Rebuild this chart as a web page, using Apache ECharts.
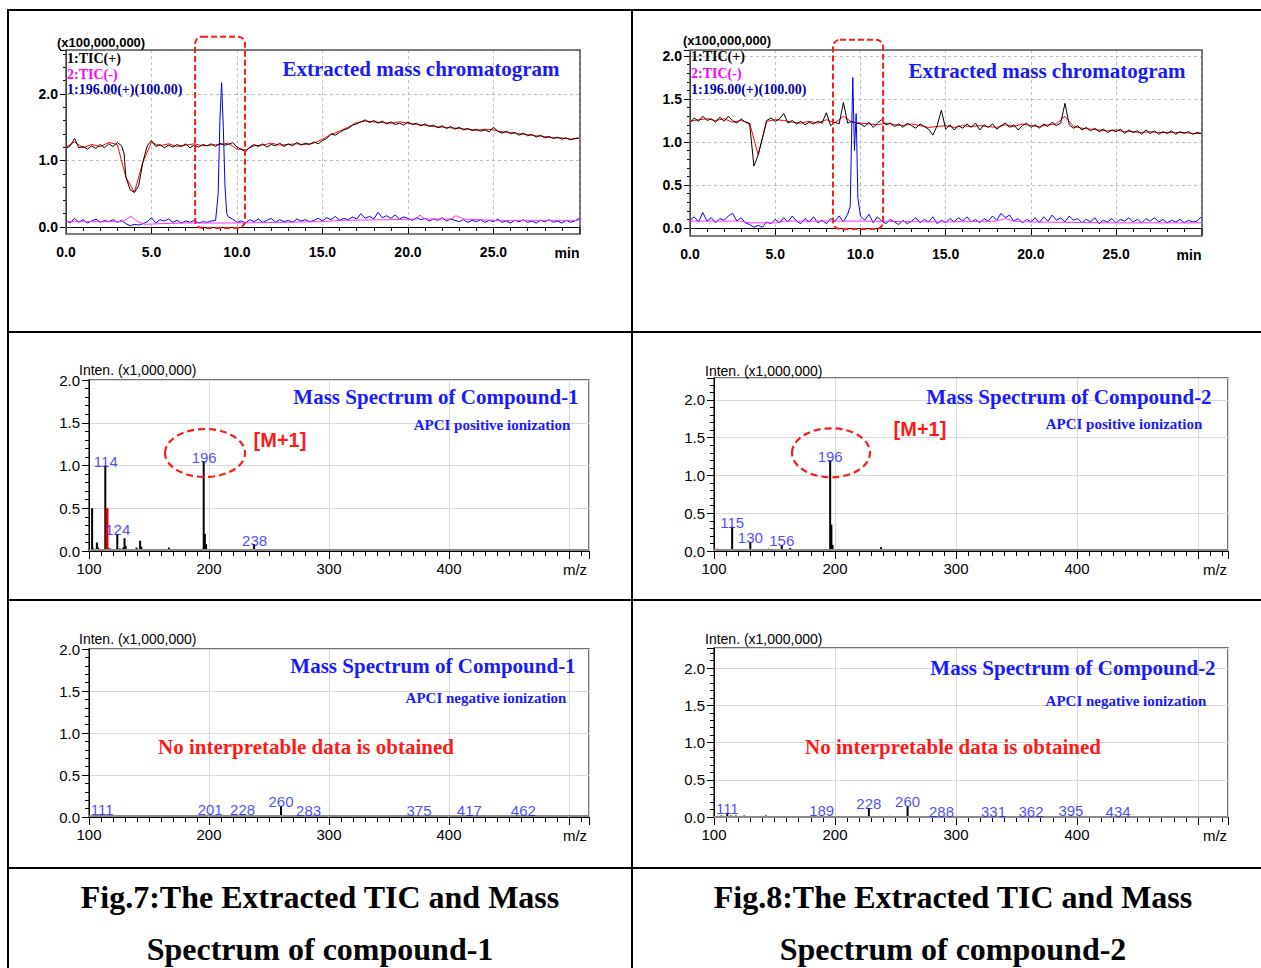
<!DOCTYPE html>
<html><head><meta charset="utf-8">
<script src="https://cdn.jsdelivr.net/npm/echarts@6/dist/echarts.min.js"></script>
<style>html,body{margin:0;padding:0;background:#fff;}#c{width:1261px;height:968px;}</style>
</head><body><div id="c"></div>
<script>
// ---------- DATA ----------
// Fig.7 chromatogram, compound-1 (x: min, y: x100,000,000)
const tic1Black = [[0,1.18],[0.25,1.22],[0.5,1.33],[0.75,1.19],[1,1.21],[1.25,1.17],[1.5,1.22],[1.75,1.18],[2,1.24],[2.25,1.19],[2.5,1.25],[2.75,1.21],[3,1.27],[3.25,1.22],[3.4,1.1],[3.5,0.75],[3.75,0.56],[4,0.52],[4.25,0.62],[4.5,0.98],[4.75,1.22],[5,1.30],[5.25,1.21],[5.5,1.24],[5.75,1.19],[6,1.23],[6.25,1.20],[6.5,1.24],[6.75,1.21],[7,1.25],[7.25,1.19],[7.5,1.23],[7.75,1.20],[8,1.24],[8.25,1.22],[8.5,1.25],[8.75,1.21],[9,1.26],[9.25,1.23],[9.5,1.24],[9.75,1.27],[10,1.20],[10.25,1.17],[10.5,1.13],[10.75,1.20],[11,1.24],[11.25,1.21],[11.5,1.25],[11.75,1.20],[12,1.24],[12.25,1.22],[12.5,1.26],[12.75,1.21],[13,1.25],[13.25,1.22],[13.5,1.27],[13.75,1.23],[14,1.26],[14.25,1.24],[14.5,1.28],[14.75,1.25],[15,1.30],[15.25,1.33],[15.5,1.40],[15.75,1.38],[16,1.42],[16.25,1.46],[16.5,1.48],[16.75,1.53],[17,1.55],[17.25,1.58],[17.5,1.61],[17.75,1.57],[18,1.60],[18.25,1.56],[18.5,1.59],[18.75,1.55],[19,1.58],[19.25,1.54],[19.5,1.56],[19.75,1.53],[20,1.58],[20.25,1.54],[20.5,1.56],[20.75,1.52],[21,1.55],[21.25,1.51],[21.5,1.53],[21.75,1.49],[22,1.52],[22.25,1.48],[22.5,1.51],[22.75,1.47],[23,1.50],[23.25,1.46],[23.5,1.48],[23.75,1.45],[24,1.47],[24.25,1.44],[24.5,1.46],[24.75,1.43],[25,1.50],[25.25,1.44],[25.5,1.41],[25.75,1.44],[26,1.40],[26.25,1.42],[26.5,1.38],[26.75,1.41],[27,1.37],[27.25,1.39],[27.5,1.35],[27.75,1.38],[28,1.34],[28.25,1.36],[28.5,1.33],[28.75,1.35],[29,1.32],[29.25,1.34],[29.5,1.31],[29.75,1.33],[30,1.34]];
const tic1Red = [[0,1.20],[0.5,1.28],[1,1.19],[1.5,1.24],[2,1.21],[2.5,1.27],[3,1.24],[3.5,0.75],[4,0.52],[4.5,0.98],[5,1.27],[5.5,1.22],[6,1.25],[6.5,1.21],[7,1.23],[7.5,1.25],[8,1.22],[8.5,1.23],[9,1.24],[9.5,1.26],[10,1.17],[10.5,1.16],[11,1.22],[11.5,1.23],[12,1.26],[12.5,1.23],[13,1.24],[13.5,1.25],[14,1.24],[14.5,1.26],[15,1.32],[15.5,1.39],[16,1.44],[16.5,1.50],[17,1.57],[17.5,1.59],[18,1.58],[18.5,1.57],[19,1.56],[19.5,1.58],[20,1.56],[20.5,1.54],[21,1.53],[21.5,1.51],[22,1.50],[22.5,1.49],[23,1.48],[23.5,1.47],[24,1.45],[24.5,1.47],[25,1.46],[25.5,1.43],[26,1.42],[26.5,1.40],[27,1.39],[27.5,1.37],[28,1.36],[28.5,1.34],[29,1.34],[29.5,1.32],[30,1.33]];
const xic1Blue = [[0,0.10],[0.25,0.06],[0.5,0.13],[0.75,0.07],[1,0.11],[1.25,0.06],[1.5,0.09],[1.75,0.12],[2,0.07],[2.25,0.10],[2.5,0.08],[2.75,0.11],[3,0.07],[3.25,0.10],[3.5,0.05],[3.75,0.02],[4,0.04],[4.25,0.03],[4.5,0.05],[4.75,0.08],[5,0.14],[5.25,0.06],[5.5,0.11],[5.75,0.09],[6,0.12],[6.25,0.07],[6.5,0.10],[6.75,0.06],[7,0.09],[7.25,0.07],[7.5,0.10],[7.75,0.06],[8,0.08],[8.25,0.07],[8.5,0.09],[8.75,0.10],[8.9,0.5],[9.0,1.6],[9.1,2.17],[9.2,1.5],[9.3,0.6],[9.4,0.2],[9.5,0.15],[9.75,0.12],[10,0.07],[10.25,0.09],[10.5,0.06],[10.75,0.11],[11,0.08],[11.25,0.12],[11.5,0.07],[11.75,0.10],[12,0.13],[12.25,0.07],[12.5,0.11],[12.75,0.08],[13,0.10],[13.25,0.07],[13.5,0.12],[13.75,0.09],[14,0.11],[14.25,0.08],[14.5,0.10],[14.75,0.13],[15,0.09],[15.25,0.14],[15.5,0.11],[15.75,0.16],[16,0.10],[16.25,0.13],[16.5,0.11],[16.75,0.15],[17,0.12],[17.25,0.20],[17.5,0.13],[17.75,0.16],[18,0.12],[18.25,0.22],[18.5,0.14],[18.75,0.17],[19,0.13],[19.25,0.18],[19.5,0.12],[19.75,0.15],[20,0.13],[20.25,0.10],[20.5,0.14],[20.75,0.11],[21,0.13],[21.25,0.09],[21.5,0.12],[21.75,0.10],[22,0.14],[22.25,0.09],[22.5,0.12],[22.75,0.10],[23,0.08],[23.25,0.11],[23.5,0.07],[23.75,0.10],[24,0.08],[24.25,0.11],[24.5,0.07],[24.75,0.10],[25,0.08],[25.25,0.12],[25.5,0.07],[25.75,0.09],[26,0.06],[26.25,0.10],[26.5,0.08],[26.75,0.11],[27,0.07],[27.25,0.09],[27.5,0.06],[27.75,0.10],[28,0.08],[28.25,0.11],[28.5,0.07],[28.75,0.09],[29,0.06],[29.25,0.10],[29.5,0.07],[29.75,0.09],[30,0.13]];
const tic1Neg = [[0,0.08],[3.3,0.08],[3.8,0.16],[4.2,0.08],[4.6,0.04],[5.5,0.05],[7,0.06],[10,0.06],[15,0.08],[16,0.10],[19,0.11],[20.5,0.12],[20.7,0.18],[21,0.12],[22.5,0.12],[22.8,0.17],[23.3,0.12],[25,0.10],[30,0.10]];

// Fig.8 chromatogram, compound-2
const tic2Black = [[0,1.22],[0.25,1.28],[0.5,1.24],[0.75,1.30],[1,1.25],[1.25,1.27],[1.5,1.23],[1.75,1.29],[2,1.24],[2.25,1.30],[2.5,1.25],[2.75,1.22],[3,1.27],[3.25,1.23],[3.5,1.21],[3.75,0.72],[4,0.85],[4.25,1.05],[4.5,1.25],[4.75,1.28],[5,1.24],[5.25,1.27],[5.5,1.33],[5.75,1.22],[6,1.25],[6.25,1.21],[6.5,1.24],[6.75,1.20],[7,1.23],[7.25,1.21],[7.5,1.24],[7.75,1.22],[8,1.34],[8.25,1.19],[8.5,1.23],[8.75,1.21],[9,1.46],[9.25,1.22],[9.5,1.24],[9.75,1.22],[10,1.21],[10.25,1.18],[10.5,1.23],[10.75,1.17],[11,1.22],[11.25,1.26],[11.5,1.20],[11.75,1.22],[12,1.18],[12.25,1.21],[12.5,1.17],[12.75,1.22],[13,1.19],[13.25,1.16],[13.5,1.21],[13.75,1.18],[14,1.15],[14.25,1.08],[14.5,1.19],[14.75,1.37],[15,1.15],[15.25,1.20],[15.5,1.14],[15.75,1.19],[16,1.16],[16.25,1.21],[16.5,1.17],[16.75,1.22],[17,1.14],[17.25,1.20],[17.5,1.17],[17.75,1.21],[18,1.15],[18.25,1.19],[18.5,1.22],[18.75,1.17],[19,1.20],[19.25,1.14],[19.5,1.19],[19.75,1.22],[20,1.17],[20.25,1.20],[20.5,1.16],[20.75,1.21],[21,1.18],[21.25,1.23],[21.5,1.19],[21.75,1.22],[22,1.45],[22.25,1.20],[22.5,1.16],[22.75,1.19],[23,1.14],[23.25,1.17],[23.5,1.13],[23.75,1.16],[24,1.12],[24.25,1.15],[24.5,1.11],[24.75,1.14],[25,1.12],[25.25,1.15],[25.5,1.10],[25.75,1.14],[26,1.11],[26.25,1.13],[26.5,1.09],[26.75,1.14],[27,1.10],[27.25,1.13],[27.5,1.09],[27.75,1.12],[28,1.10],[28.25,1.13],[28.5,1.09],[28.75,1.12],[29,1.10],[29.25,1.12],[29.5,1.09],[29.75,1.11],[30,1.10]];
const tic2Red = [[0,1.24],[0.5,1.26],[1,1.27],[1.5,1.25],[2,1.27],[2.5,1.23],[3,1.25],[3.5,1.22],[4,0.85],[4.5,1.24],[5,1.26],[5.5,1.25],[6,1.23],[6.5,1.22],[7,1.24],[7.5,1.22],[8,1.26],[8.5,1.22],[9,1.30],[9.5,1.23],[10,1.22],[10.5,1.21],[11,1.20],[11.5,1.22],[12,1.20],[12.5,1.19],[13,1.21],[13.5,1.19],[14,1.17],[14.5,1.18],[15,1.19],[15.5,1.17],[16,1.19],[16.5,1.18],[17,1.19],[17.5,1.18],[18,1.17],[18.5,1.20],[19,1.18],[19.5,1.21],[20,1.19],[20.5,1.18],[21,1.20],[21.5,1.21],[22,1.30],[22.5,1.18],[23,1.16],[23.5,1.15],[24,1.14],[24.5,1.13],[25,1.14],[25.5,1.12],[26,1.12],[26.5,1.11],[27,1.12],[27.5,1.11],[28,1.11],[28.5,1.11],[29,1.11],[29.5,1.10],[30,1.10]];
const xic2Blue = [[0,0.09],[0.25,0.13],[0.5,0.07],[0.75,0.18],[1,0.08],[1.25,0.12],[1.5,0.06],[1.75,0.11],[2,0.09],[2.25,0.14],[2.5,0.17],[2.75,0.08],[3,0.12],[3.25,0.06],[3.5,0.04],[3.75,0.01],[4,0.03],[4.25,0.01],[4.5,0.07],[4.75,0.05],[5,0.10],[5.25,0.06],[5.5,0.12],[5.75,0.07],[6,0.14],[6.25,0.08],[6.5,0.05],[6.75,0.11],[7,0.07],[7.25,0.13],[7.5,0.06],[7.75,0.09],[8,0.05],[8.25,0.11],[8.5,0.08],[8.75,0.14],[9,0.07],[9.25,0.16],[9.4,0.25],[9.55,1.75],[9.65,0.9],[9.75,1.33],[9.85,0.35],[10,0.14],[10.25,0.09],[10.5,0.16],[10.75,0.06],[11,0.13],[11.25,0.08],[11.5,0.05],[11.75,0.10],[12,0.07],[12.25,0.04],[12.5,0.09],[12.75,0.05],[13,0.08],[13.25,0.12],[13.5,0.06],[13.75,0.10],[14,0.07],[14.25,0.13],[14.5,0.05],[14.75,0.09],[15,0.06],[15.25,0.11],[15.5,0.07],[15.75,0.12],[16,0.08],[16.25,0.13],[16.5,0.07],[16.75,0.10],[17,0.06],[17.25,0.11],[17.5,0.08],[17.75,0.14],[18,0.09],[18.25,0.17],[18.5,0.12],[18.75,0.15],[19,0.08],[19.25,0.11],[19.5,0.06],[19.75,0.10],[20,0.07],[20.25,0.12],[20.5,0.06],[20.75,0.13],[21,0.08],[21.25,0.15],[21.5,0.09],[21.75,0.12],[22,0.07],[22.25,0.14],[22.5,0.09],[22.75,0.11],[23,0.06],[23.25,0.10],[23.5,0.07],[23.75,0.12],[24,0.05],[24.25,0.09],[24.5,0.07],[24.75,0.11],[25,0.06],[25.25,0.10],[25.5,0.08],[25.75,0.12],[26,0.07],[26.25,0.10],[26.5,0.06],[26.75,0.11],[27,0.08],[27.25,0.12],[27.5,0.07],[27.75,0.10],[28,0.06],[28.25,0.09],[28.5,0.07],[28.75,0.10],[29,0.06],[29.25,0.09],[29.5,0.07],[29.75,0.08],[30,0.13]];
const tic2Neg = [[0,0.08],[3.0,0.08],[3.5,0.06],[5,0.06],[5.5,0.08],[10,0.08],[15,0.07],[18,0.08],[18.5,0.11],[19,0.08],[20,0.07],[25,0.06],[30,0.06]];

// Mass spectra (x: m/z, y: x1,000,000)
const spec1Pos = [[101,0.02],[103,0.5],[104,0.03],[107,0.1],[108,0.04],[110,0.02],[112,0.02],[114,1.0],[116,0.04],[118,0.03],[121,0.02],[124,0.2],[126,0.03],[129,0.04],[130,0.15],[131,0.06],[133,0.02],[137,0.02],[140,0.04],[143,0.12],[144,0.05],[147,0.02],[150,0.02],[153,0.015],[157,0.015],[160,0.01],[167,0.04],[172,0.01],[180,0.01],[185,0.01],[196,1.05],[197,0.2],[198,0.08],[205,0.01],[212,0.01],[220,0.01],[226,0.01],[230,0.015],[238,0.08],[239,0.02],[252,0.01],[268,0.02],[280,0.02],[293,0.015],[310,0.01],[325,0.01],[356,0.01],[392,0.02],[430,0.01],[475,0.01],[505,0.01]];
const spec1PosRed = [[115,0.5]];
const spec1PosLabels = [[114,1.0],[124,0.2],[196,1.05],[238,0.08]];
const spec2Pos = [[101,0.02],[103,0.03],[105,0.02],[108,0.01],[111,0.015],[115,0.32],[117,0.02],[120,0.01],[124,0.015],[127,0.01],[130,0.12],[132,0.02],[138,0.01],[142,0.025],[145,0.03],[148,0.02],[152,0.015],[156,0.08],[158,0.02],[163,0.04],[170,0.01],[178,0.01],[185,0.01],[196,1.2],[197,0.35],[198,0.08],[203,0.01],[210,0.01],[224,0.02],[238,0.05],[245,0.01],[262,0.01],[275,0.01],[290,0.015],[313,0.015],[340,0.01],[380,0.01],[420,0.01],[460,0.01],[500,0.01]];
const spec2PosLabels = [[115,0.32],[130,0.12],[156,0.08],[196,1.2]];
const spec1Neg = [[104,0.015],[107,0.02],[111,0.03],[113,0.015],[116,0.02],[120,0.01],[124,0.015],[128,0.01],[135,0.01],[142,0.01],[150,0.01],[160,0.01],[170,0.01],[185,0.01],[195,0.01],[201,0.03],[210,0.01],[220,0.015],[228,0.03],[235,0.01],[245,0.015],[252,0.02],[260,0.13],[266,0.01],[275,0.01],[283,0.02],[295,0.01],[320,0.01],[350,0.01],[375,0.012],[400,0.01],[417,0.012],[440,0.01],[462,0.012],[490,0.01]];
const spec1NegLabels = [[111,0.03],[201,0.03],[228,0.03],[260,0.13],[283,0.02],[375,0.012],[417,0.012],[462,0.012]];
const spec2Neg = [[103,0.015],[106,0.02],[108,0.015],[111,0.05],[114,0.02],[118,0.02],[121,0.015],[125,0.02],[131,0.01],[143,0.02],[150,0.01],[160,0.01],[175,0.01],[189,0.02],[200,0.01],[210,0.01],[218,0.01],[228,0.12],[236,0.01],[245,0.015],[252,0.01],[260,0.14],[270,0.01],[288,0.01],[300,0.01],[315,0.01],[331,0.01],[345,0.01],[362,0.01],[380,0.01],[395,0.02],[410,0.01],[434,0.01],[460,0.01],[490,0.01]];
const spec2NegLabels = [[111,0.05],[189,0.02],[228,0.12],[260,0.14],[288,0.01],[331,0.01],[362,0.01],[395,0.02],[434,0.01]];

// annotation regions (data units)
const box1 = {x: [7.55, 10.47], y: [-0.015, 2.86]};
const box2 = {x: [8.39, 11.33], y: [-0.012, 2.19]};
const ring3 = [196.7, 1.146];
const ring4 = [196.7, 1.30];

// ---------- CHART ----------
const SANS = '"Liberation Sans", Arial, sans-serif';
const SERIF = '"Liberation Serif", "Times New Roman", serif';
const chart = echarts.init(document.getElementById('c'), null, {renderer: 'svg', width: 1261, height: 968});

const grids = [
  {left: 66, top: 50, width: 514, height: 177},
  {left: 690, top: 50, width: 512, height: 178},
  {left: 89, top: 380, width: 500, height: 171},
  {left: 714, top: 378, width: 514, height: 173},
  {left: 89, top: 649, width: 500, height: 168},
  {left: 714, top: 648, width: 514, height: 169}
].map((g, i) => Object.assign({containLabel: false, outerBoundsMode: 'none', show: i >= 2, borderColor: '#444', borderWidth: 1.5}, g));

function isMult(v, step) { return Math.abs(v / step - Math.round(v / step)) < 1e-6; }

function chromX(gi, max, offset) {
  return {gridIndex: gi, type: 'value', min: 0, max: max, interval: 5, offset: offset,
    axisLine: {show: true, lineStyle: {color: '#000', width: 1}},
    axisTick: {show: true, length: 7, lineStyle: {color: '#000'}},
    minorTick: {show: true, splitNumber: 5, length: 4, lineStyle: {color: '#000'}},
    axisLabel: {margin: 11, color: '#000', fontFamily: SANS, fontWeight: 'bold', fontSize: 14,
      formatter: v => (isMult(v, 5) && v < 29) ? v.toFixed(1) : ''},
    splitLine: {show: true, lineStyle: {color: '#bdbdbd', type: [3, 3], width: 1}}};
}
function chromY(gi, max, interval) {
  return {gridIndex: gi, type: 'value', min: 0, max: max, interval: interval,
    axisLine: {show: true, lineStyle: {color: '#000', width: 1}},
    axisTick: {show: true, length: 6, lineStyle: {color: '#000'}},
    minorTick: {show: true, splitNumber: 5, length: 3, lineStyle: {color: '#000'}},
    axisLabel: {margin: 8, color: '#000', fontFamily: SANS, fontWeight: 'bold', fontSize: 14,
      formatter: v => (isMult(v, interval) && v <= max - 0.04) ? v.toFixed(1) : ''},
    splitLine: {show: true, lineStyle: {color: '#bdbdbd', type: [3, 3], width: 1}}};
}
function specX(gi, max) {
  return {gridIndex: gi, type: 'value', min: 100, max: max, interval: 100,
    axisLine: {show: true, lineStyle: {color: '#000', width: 1}},
    axisTick: {show: true, length: 8, lineStyle: {color: '#000'}},
    minorTick: {show: true, splitNumber: 10, length: 5, lineStyle: {color: '#000'}},
    axisLabel: {margin: 10, color: '#000', fontFamily: SANS, fontSize: 15,
      formatter: v => (isMult(v, 100) && v < 500) ? String(v) : ''},
    splitLine: {show: true, lineStyle: {color: '#d9d9d9', width: 1}}};
}
function specY(gi, max) {
  return {gridIndex: gi, type: 'value', min: 0, max: max, interval: 0.5,
    axisLine: {show: true, lineStyle: {color: '#000', width: 1}},
    axisTick: {show: true, length: 7, lineStyle: {color: '#000'}},
    minorTick: {show: true, splitNumber: 5, length: 4, lineStyle: {color: '#000'}},
    axisLabel: {margin: 9, color: '#000', fontFamily: SANS, fontSize: 15,
      formatter: v => (isMult(v, 0.5) && v <= max + 1e-6 && v <= 2.0 + 1e-6) ? v.toFixed(1) : ''},
    splitLine: {show: true, lineStyle: {color: '#d9d9d9', width: 1}}};
}

function lineS(gi, data, color, z) {
  return {type: 'line', xAxisIndex: gi, yAxisIndex: gi, data: data, showSymbol: false, symbol: 'none',
    lineStyle: {color: color, width: 1}, silent: true, animation: false, z: z, clip: false};
}
function barS(gi, data, color, w) {
  return {type: 'bar', xAxisIndex: gi, yAxisIndex: gi, data: data, barWidth: w, barGap: '-100%', itemStyle: {color: color},
    silent: true, animation: false, z: 3};
}
function labelS(gi, data, dist) {
  return {type: 'scatter', xAxisIndex: gi, yAxisIndex: gi, data: data, symbolSize: 1,
    itemStyle: {color: 'rgba(0,0,0,0)'}, silent: true, animation: false, z: 5,
    label: {show: true, position: 'top', distance: dist, color: '#1a1aff', fontFamily: SANS, fontSize: 15,
      formatter: p => String(p.value[0])}};
}
function floorS(gi) {
  return {type: 'line', xAxisIndex: gi, yAxisIndex: gi, data: [], silent: true, animation: false,
    markLine: {silent: true, symbol: 'none', label: {show: false}, animation: false,
      lineStyle: {color: '#8a8a8a', width: 2, type: 'solid'}, data: [{yAxis: 0.012}]}};
}

const option = {
  backgroundColor: '#fff',
  animation: false,
  grid: grids,
  xAxis: [chromX(0, 30.06, 7), chromX(1, 30.04, 8), specX(2, 516.7), specX(3, 524.8), specX(4, 516.7), specX(5, 524.8)],
  yAxis: [chromY(0, 2.66, 1), chromY(1, 2.07, 0.5), specY(2, 2.0), specY(3, 2.29), specY(4, 2.0), specY(5, 2.27)],
  series: [
    lineS(0, tic1Red, '#ff0000', 2), lineS(0, tic1Black, '#000000', 3), lineS(0, xic1Blue, '#0000ff', 4), lineS(0, tic1Neg, '#ff33ff', 5),
    lineS(1, tic2Red, '#ff0000', 2), lineS(1, tic2Black, '#000000', 3), lineS(1, xic2Blue, '#0000ff', 4), lineS(1, tic2Neg, '#ff33ff', 5),
    floorS(2), barS(2, spec1Pos, '#000', 2), barS(2, spec1PosRed, '#e00000', 3), labelS(2, spec1PosLabels, -4),
    floorS(3), barS(3, spec2Pos, '#000', 2), labelS(3, spec2PosLabels, -4),
    floorS(4), barS(4, spec1Neg, '#000', 2), labelS(4, spec1NegLabels, -3),
    floorS(5), barS(5, spec2Neg, '#000', 2), labelS(5, spec2NegLabels, -3)
  ]
};
chart.setOption(option);

// ---------- GRAPHIC (table, frames, texts, annotations) ----------
function T(text, x, y, font, fill, align) {
  return {type: 'text', silent: true, z: 100, style: {text: text, x: x, y: y, font: font, fill: fill,
    align: align || 'center', verticalAlign: 'middle', textAlign: align || 'center', textVerticalAlign: 'middle'}};
}
function L(x1, y1, x2, y2) {
  return {type: 'line', silent: true, z: 100, shape: {x1: x1, y1: y1, x2: x2, y2: y2}, style: {stroke: '#000', lineWidth: 2}};
}
function frame(x, y, w, h) {
  return {type: 'rect', silent: true, z: 50, shape: {x: x, y: y, width: w, height: h}, style: {fill: 'none', stroke: '#555', lineWidth: 1.5}};
}
function dashBox(gi, b) {
  const p0 = chart.convertToPixel({gridIndex: gi}, [b.x[0], b.y[1]]);
  const p1 = chart.convertToPixel({gridIndex: gi}, [b.x[1], b.y[0]]);
  return {type: 'rect', silent: true, z: 60, shape: {x: p0[0], y: p0[1], width: p1[0] - p0[0], height: p1[1] - p0[1], r: 7},
    style: {fill: 'none', stroke: '#ff1a1a', lineWidth: 2, lineDash: [6, 3]}};
}
function ring(gi, c, rx, ry) {
  const p = chart.convertToPixel({gridIndex: gi}, c);
  return {type: 'ellipse', silent: true, z: 60, shape: {cx: p[0], cy: p[1], rx: rx, ry: ry},
    style: {fill: 'none', stroke: '#ff1a1a', lineWidth: 2.2, lineDash: [7, 4]}};
}

const BLUE = '#1a1aff';
const RED = '#ff1a1a';
const g = [
  // table
  L(8, 10, 1261, 10), L(8, 9, 8, 968), L(632, 9, 632, 968),
  L(8, 332, 1261, 332), L(8, 600, 1261, 600), L(8, 868, 1261, 868),
  // chromatogram frames
  frame(66, 50, 514, 184), frame(690, 50, 512, 186),
  dashBox(0, box1), dashBox(1, box2),
  ring(2, ring3, 40, 24), ring(3, ring4, 39, 24.5),
  // chromatogram texts
  T('(x100,000,000)', 57, 42, 'bold 13px ' + SANS, '#000', 'left'),
  T('1:TIC(+)', 67, 58, 'bold 14px ' + SERIF, '#000', 'left'),
  T('2:TIC(-)', 67, 74, 'bold 14px ' + SERIF, '#ff00ff', 'left'),
  T('1:196.00(+)(100.00)', 67, 89, 'bold 14px ' + SERIF, '#0000b0', 'left'),
  T('Extracted mass chromatogram', 421, 69, 'bold 21px ' + SERIF, BLUE),
  T('min', 567, 253, 'bold 14px ' + SANS, '#000'),
  T('(x100,000,000)', 683, 40, 'bold 13px ' + SANS, '#000', 'left'),
  T('1:TIC(+)', 691, 56, 'bold 14px ' + SERIF, '#000', 'left'),
  T('2:TIC(-)', 691, 73, 'bold 14px ' + SERIF, '#ff00ff', 'left'),
  T('1:196.00(+)(100.00)', 691, 89, 'bold 14px ' + SERIF, '#0000b0', 'left'),
  T('Extracted mass chromatogram', 1047, 71, 'bold 21px ' + SERIF, BLUE),
  T('min', 1189, 255, 'bold 14px ' + SANS, '#000'),
  // spectra texts
  T('Inten. (x1,000,000)', 79, 370, '14px ' + SANS, '#000', 'left'),
  T('Mass Spectrum of Compound-1', 436, 397, 'bold 21px ' + SERIF, BLUE),
  T('APCI positive ionization', 492, 425, 'bold 15px ' + SERIF, BLUE),
  T('[M+1]', 280, 440, 'bold 20px ' + SANS, RED),
  T('m/z', 575, 569, '15px ' + SANS, '#000'),
  T('Inten. (x1,000,000)', 705, 371, '14px ' + SANS, '#000', 'left'),
  T('Mass Spectrum of Compound-2', 1069, 397, 'bold 21px ' + SERIF, BLUE),
  T('APCI positive ionization', 1124, 424, 'bold 15px ' + SERIF, BLUE),
  T('[M+1]', 920, 429, 'bold 20px ' + SANS, RED),
  T('m/z', 1215, 569, '15px ' + SANS, '#000'),
  T('Inten. (x1,000,000)', 79, 639, '14px ' + SANS, '#000', 'left'),
  T('Mass Spectrum of Compound-1', 433, 666, 'bold 21px ' + SERIF, BLUE),
  T('APCI negative ionization', 486, 698, 'bold 15px ' + SERIF, BLUE),
  T('No interpretable data is obtained', 306, 747, 'bold 21px ' + SERIF, RED),
  T('m/z', 575, 835, '15px ' + SANS, '#000'),
  T('Inten. (x1,000,000)', 705, 639, '14px ' + SANS, '#000', 'left'),
  T('Mass Spectrum of Compound-2', 1073, 668, 'bold 21px ' + SERIF, BLUE),
  T('APCI negative ionization', 1126, 701, 'bold 15px ' + SERIF, BLUE),
  T('No interpretable data is obtained', 953, 747, 'bold 21px ' + SERIF, RED),
  T('m/z', 1215, 835, '15px ' + SANS, '#000'),
  // captions
  T('Fig.7:The Extracted TIC and Mass', 320, 897, 'bold 32px ' + SERIF, '#000'),
  T('Spectrum of compound-1', 320, 949, 'bold 32px ' + SERIF, '#000'),
  T('Fig.8:The Extracted TIC and Mass', 953, 897, 'bold 32px ' + SERIF, '#000'),
  T('Spectrum of compound-2', 953, 949, 'bold 32px ' + SERIF, '#000')
];
chart.setOption({graphic: {elements: g}});
</script></body></html>
